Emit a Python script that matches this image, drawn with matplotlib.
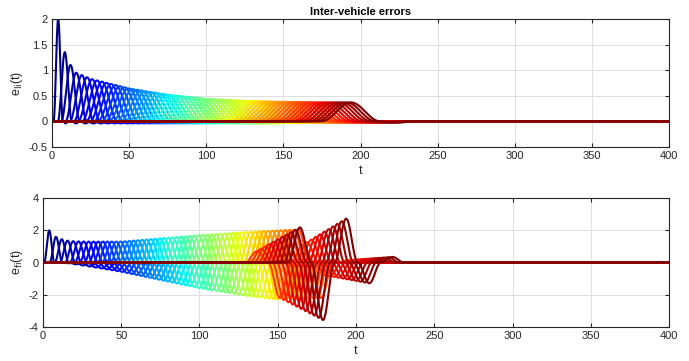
import numpy as np
import matplotlib
matplotlib.use("Agg")
import matplotlib.pyplot as plt

plt.rcParams['font.family'] = ['Liberation Sans', 'DejaVu Sans']

# peak time of each vehicle's error
peak_t = [4.0, 8.3, 12.0, 15.7, 19.3, 22.7, 26.0, 29.2, 32.3, 35.3,
          38.25, 41.15, 44.0, 46.85, 49.6, 52.4, 55.2, 57.9, 60.7, 63.5,
          66.2, 69.0, 71.8, 74.6, 77.3, 80.1, 82.9, 85.6, 88.4, 91.2,
          93.9, 96.7, 99.5, 102.3, 105.0, 107.8, 110.6, 113.3, 116.1, 118.9,
          121.6, 124.4, 127.2, 130.0, 132.7, 135.5, 138.3, 141.0, 143.8, 146.6,
          149.3, 152.1, 154.9, 157.7, 160.4, 163.2, 166.0, 168.7, 171.5, 174.3,
          177.0, 179.8, 182.6, 185.4, 188.1, 190.9, 193.7]

# top panel: crest height and half width of the humps against time
top_env_t = [4, 8.3, 12, 15.7, 25, 50, 75, 100, 125, 150, 175, 194]
top_env_v = [2.0, 1.35, 1.1, 0.95, 0.83, 0.64, 0.52, 0.44, 0.4, 0.38, 0.37, 0.37]
top_w_t = [4, 8.3, 12, 16, 25, 50, 100, 150, 194]
top_w_v = [3, 4.5, 6, 7, 9, 13, 17, 19, 19]

# bottom panel: main crest, following trough and half period against time
bot_p_t = [4, 8.3, 12, 15.7, 20, 30, 50, 75, 100, 130, 150, 163]
bot_p_v = [2.0, 1.6, 1.45, 1.36, 1.32, 1.3, 1.3, 1.5, 1.7, 1.9, 2.0, 2.05]
bot_q_t = [10, 16, 25, 50, 100, 132, 150, 180]
bot_q_v = [0, -0.04, -0.17, -0.57, -1.6, -2.1, -2.3, -2.2]
bot_h_t = [4, 8, 12, 16, 25, 50, 100, 194]
bot_h_v = [6.5, 8, 9, 10, 11.5, 13.3, 14.4, 14.8]

# last vehicles (crest after t = 165): earlier crest, earlier trough, crest, trough, bump
late_t = [166, 194]
late_p0 = [0.7, 2.2]
late_qm = [-2.2, -3.6]
late_p = [1.1, 2.75]
late_q = [-0.8, -1.3]
late_p2 = [0.15, 0.35]

t = np.arange(0, 400.05, 0.1)


def through(tk, vk):
    # smooth curve through the read extrema, zero elsewhere
    y = np.zeros_like(t)
    for a, b, va, vb in zip(tk[:-1], tk[1:], vk[:-1], vk[1:]):
        m = (t >= a) & (t <= b)
        s = (t[m] - a) / (b - a)
        y[m] = va + (vb - va) * (1 - np.cos(np.pi * s)) / 2
    return y


n = len(peak_t)
colors = plt.cm.jet(np.linspace(0, 1, n))

fig = plt.figure(figsize=(6.89, 3.61), dpi=100)
ax1 = fig.add_axes([0.0755, 0.593, 0.8955, 0.3546])
ax2 = fig.add_axes([0.0624, 0.095, 0.9086, 0.3557])

for i, c in enumerate(peak_t):
    a = np.interp(c, top_env_t, top_env_v)
    w = np.interp(c, top_w_t, top_w_v)
    tail = -0.04 if c < 120 else -0.025
    y1 = through([c - w, c, c + w, c + 1.6 * w, c + 2.2 * w], [0, a, 0, tail, 0])
    ax1.plot(t, y1, color=colors[i], linewidth=1.5)

    h = np.interp(c, bot_h_t, bot_h_v)
    if c < late_t[0]:
        p = np.interp(c, bot_p_t, bot_p_v)
        q = np.interp(c + h, bot_q_t, bot_q_v)
        tk = [c - 0.5 * h, c, c + 0.5 * h, c + h, c + 1.5 * h]
        vk = [0, p, 0, q, 0]
    else:
        tk = [c - 2.5 * h, c - 2 * h, c - 1.5 * h, c - h, c - 0.5 * h, c,
              c + 0.5 * h, c + h, c + 1.5 * h, c + 2 * h, c + 2.5 * h]
        vk = [0, np.interp(c, late_t, late_p0), 0, np.interp(c, late_t, late_qm), 0,
              np.interp(c, late_t, late_p), 0, np.interp(c, late_t, late_q), 0,
              np.interp(c, late_t, late_p2), 0]
    ax2.plot(t, through(tk, vk), color=colors[i], linewidth=1.5)

for ax in (ax1, ax2):
    ax.set_xlim(0, 400)
    ax.set_xticks(np.arange(0, 401, 50))
    ax.grid(True, color='#dedede', linewidth=0.7)
    ax.set_axisbelow(True)
    ax.tick_params(direction='in', length=3, labelsize=8, colors='#262626',
                   top=True, right=True, pad=3)
    for sp in ax.spines.values():
        sp.set_color('#262626')
        sp.set_linewidth(0.8)
    ax.set_xlabel('t', fontsize=9, labelpad=3, color='#262626')

ax1.set_ylim(-0.5, 2)
ax1.set_yticks([-0.5, 0, 0.5, 1, 1.5, 2])
ax1.set_yticklabels(['-0.5', '0', '0.5', '1', '1.5', '2'])
ax1.set_ylabel(r'e$_{\rm li}$(t)', fontsize=9, labelpad=3, color='#262626')
ax1.set_title('Inter-vehicle errors', fontsize=8, fontweight='bold', pad=3)

ax2.set_ylim(-4, 4)
ax2.set_yticks([-4, -2, 0, 2, 4])
ax2.set_yticklabels(['-4', '-2', '0', '2', '4'])
ax2.set_ylabel(r'e$_{\rm fi}$(t)', fontsize=9, labelpad=3, color='#262626')

fig.savefig('out.png', dpi=100)
